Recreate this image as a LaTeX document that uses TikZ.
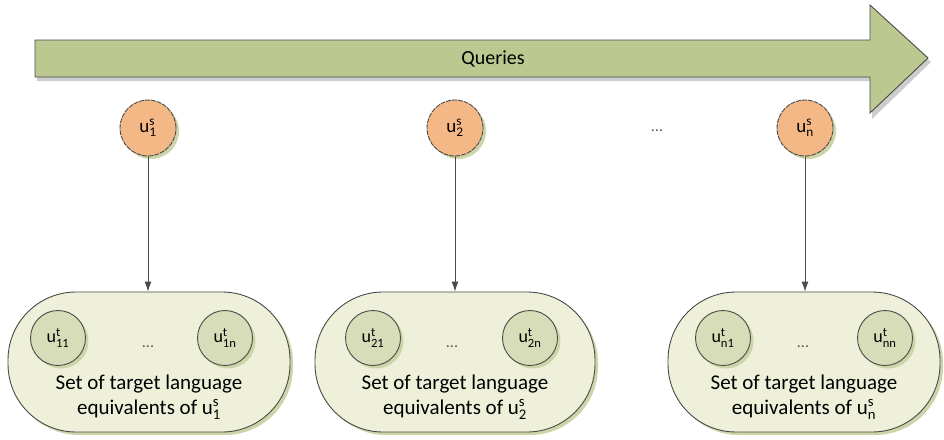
\documentclass[tikz,border=0pt]{standalone}
\usepackage{fontspec}
\setmainfont{Carlito}
\usetikzlibrary{arrows.meta,shadows}

\definecolor{arrowfill}{HTML}{BBC890}
\definecolor{queryfill}{HTML}{F4B886}
\definecolor{setfill}{HTML}{EEF0D9}
\definecolor{itemfill}{HTML}{D7DDB9}
\definecolor{shadowgreen}{HTML}{CDD5A8}
\definecolor{edge}{HTML}{4A4A4A}

% u with stacked super- and subscript
\newcommand{\uvar}[2]{$\mathrm{u}^{\mathrm{#1}}_{\mathrm{#2}}$}

\tikzset{
  gshadow/.style={drop shadow={shadow xshift=3pt,shadow yshift=-3pt,fill=shadowgreen,opacity=1}},
  query/.style={circle,minimum size=56pt,inner sep=0pt,fill=queryfill,draw=edge,
    line width=0.9pt,dash pattern=on 5pt off 1pt,gshadow,font=\fontsize{19}{20}\selectfont},
  setbox/.style={rectangle,rounded corners=68pt,minimum height=140pt,fill=setfill,
    draw=edge,line width=0.9pt,gshadow},
  item/.style={circle,minimum size=55pt,inner sep=0pt,fill=itemfill,draw=edge,
    line width=0.9pt,gshadow,font=\fontsize{18}{19}\selectfont},
  caption/.style={font=\fontsize{21}{25}\selectfont,align=center,inner sep=0pt},
  dots/.style={font=\fontsize{16}{16}\selectfont,text=gray!70!black,inner sep=0pt},
  link/.style={draw=edge,line width=0.9pt,-{Latex[length=10pt,width=7pt]}}
}

\begin{document}
\begin{tikzpicture}[x=1pt,y=-1pt]
\useasboundingbox (0,0) rectangle (944,439);

% timeline arrow with its shadow
\fill[gray!40] (37,44) -- (872,44) -- (872,9) -- (931,62) -- (872,119) -- (872,81) -- (37,81) -- cycle;
\draw[fill=arrowfill,draw=edge,line width=0.9pt]
  (35,40) -- (870,40) -- (870,5) -- (928,58) -- (870,113) -- (870,77) -- (35,77) -- cycle;
\node[font=\fontsize{20}{22}\selectfont] (queries) at (493,58.5) {Queries};

% source-language queries
\node[query] (q1) at (148,128) {\uvar{s}{1}};
\node[query] (q2) at (455,128) {\uvar{s}{2}};
\node[query] (qn) at (805,128) {\uvar{s}{n}};
\node[dots] (qdots) at (657,131) {...};

% sets of target-language equivalents
\node[setbox,minimum width=282pt] (s1) at (149,362) {};
\node[setbox,minimum width=280pt] (s2) at (455,362) {};
\node[setbox,minimum width=272pt] (s3) at (804,362) {};

\node[item] (t11) at (58,338) {\uvar{t}{11}};
\node[item] (t1n) at (225,338) {\uvar{t}{1n}};
\node[dots] (d1) at (148,347) {...};
\node[caption] (c1) at (149,397) {Set of target language\\equivalents of \uvar{s}{1}};

\node[item] (t21) at (373,338) {\uvar{t}{21}};
\node[item] (t2n) at (530,338) {\uvar{t}{2n}};
\node[dots] (d2) at (452,347) {...};
\node[caption] (c2) at (455,397) {Set of target language\\equivalents of \uvar{s}{2}};

\node[item] (tn1) at (723,338) {\uvar{t}{n1}};
\node[item] (tnn) at (885,338) {\uvar{t}{nn}};
\node[dots] (d3) at (803,347) {...};
\node[caption] (c3) at (804,397) {Set of target language\\equivalents of \uvar{s}{n}};

% connectors
\draw[link] (q1) -- (q1 |- s1.north);
\draw[link] (q2) -- (q2 |- s2.north);
\draw[link] (qn) -- (qn |- s3.north);
\end{tikzpicture}
\end{document}
